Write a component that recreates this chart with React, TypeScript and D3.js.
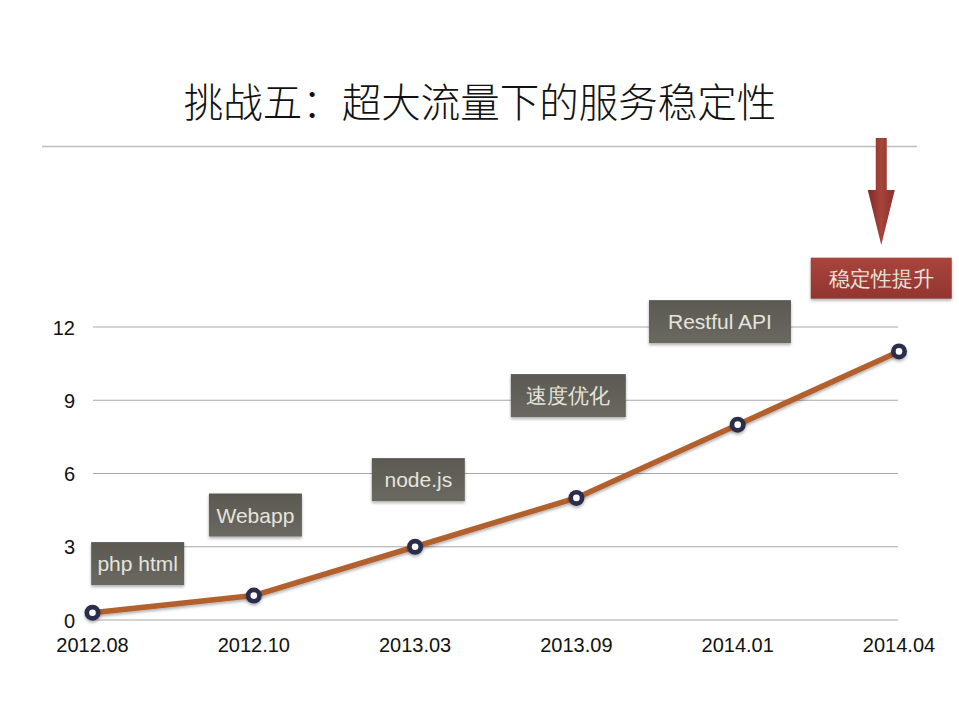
import React, { useEffect, useRef } from "react";
import * as d3 from "d3";

const title = "挑战五：超大流量下的服务稳定性";
const categories = ["2012.08", "2012.10", "2013.03", "2013.09", "2014.01", "2014.04"];
const values = [0.3, 1, 3, 5, 8, 11];
const yTicks = [0, 3, 6, 9, 12];
const noteTexts = ["php html", "Webapp", "node.js", "速度优化", "Restful API"];
const noteX = [0.28, 1.01, 2.02, 2.95, 3.89];
const noteY = [2.31, 4.3, 5.75, 9.19, 12.22];
const highlightText = "稳定性提升";
const highlightX = 4.89;
const highlightY = 14.0;

const noteWidths = [93, 93, 93, 115, 142];
const highlightWidth = 141;

export default function App() {
  const ref = useRef<SVGSVGElement | null>(null);

  useEffect(() => {
    const svg = d3.select(ref.current);
    svg.selectAll("*").remove();
    const W = 959, H = 720;

    const defs = svg.append("defs");
    const g1 = defs.append("linearGradient").attr("id", "boxGrad").attr("x1", 0).attr("y1", 0).attr("x2", 0).attr("y2", 1);
    g1.append("stop").attr("offset", "0%").attr("stop-color", "#5a5951");
    g1.append("stop").attr("offset", "100%").attr("stop-color", "#6a6962");
    const g2 = defs.append("linearGradient").attr("id", "redGrad").attr("x1", 0).attr("y1", 0).attr("x2", 0).attr("y2", 1);
    g2.append("stop").attr("offset", "0%").attr("stop-color", "#a9443c");
    g2.append("stop").attr("offset", "100%").attr("stop-color", "#923530");
    const g3 = defs.append("linearGradient").attr("id", "arrowGrad").attr("x1", 0).attr("y1", 0).attr("x2", 1).attr("y2", 0);
    g3.append("stop").attr("offset", "0%").attr("stop-color", "#7e2a26");
    g3.append("stop").attr("offset", "50%").attr("stop-color", "#a8443a");
    g3.append("stop").attr("offset", "100%").attr("stop-color", "#86302b");
    const sh = defs.append("filter").attr("id", "shadow").attr("x", "-20%").attr("y", "-20%").attr("width", "140%").attr("height", "160%");
    sh.append("feDropShadow").attr("dx", 0).attr("dy", 2).attr("stdDeviation", 1.5).attr("flood-color", "#000").attr("flood-opacity", 0.3);

    svg.append("rect").attr("width", W).attr("height", H).attr("fill", "#ffffff");

    // Title
    svg.append("text")
      .attr("x", 480).attr("y", 117)
      .attr("text-anchor", "middle")
      .attr("font-family", "'Noto Sans CJK SC', sans-serif")
      .attr("font-size", 39.5)
      .attr("font-weight", 300)
      .attr("fill", "#111")
      .text(title);
    svg.append("line").attr("x1", 42).attr("x2", 917).attr("y1", 146.5).attr("y2", 146.5)
      .attr("stroke", "#bdbdbd").attr("stroke-width", 1.5);

    const x = d3.scalePoint<string>().domain(categories).range([92.5, 899]);
    const xi = d3.scaleLinear().domain([0, categories.length - 1]).range([92.5, 899]);
    const y = d3.scaleLinear().domain([0, 12]).range([620, 327]);

    // Grid
    const grid = svg.append("g");
    yTicks.forEach(t => {
      grid.append("line").attr("x1", 93).attr("x2", 898).attr("y1", y(t)).attr("y2", y(t))
        .attr("stroke", "#a8a8a8").attr("stroke-width", 1.2);
      grid.append("text").attr("x", 75).attr("y", y(t) + 7.5).attr("text-anchor", "end")
        .attr("font-family", "'Liberation Sans', Arial, sans-serif").attr("font-size", 20)
        .attr("fill", "#111").text(String(t));
    });
    categories.forEach(c => {
      svg.append("text").attr("x", x(c)!).attr("y", 652).attr("text-anchor", "middle")
        .attr("font-family", "'Liberation Sans', Arial, sans-serif").attr("font-size", 20)
        .attr("fill", "#111").text(c);
    });

    // Notes
    const drawBox = (text: string, cx: number, cy: number, w: number, fill: string, h: number) => {
      const gg = svg.append("g");
      gg.append("rect").attr("x", cx - w / 2).attr("y", cy - h / 2).attr("width", w).attr("height", h)
        .attr("fill", fill).attr("filter", "url(#shadow)");
      gg.append("text").attr("x", cx).attr("y", cy + 7.5).attr("text-anchor", "middle")
        .attr("font-family", "'Liberation Sans', Arial, sans-serif").attr("font-size", 21)
        .attr("fill", "#e6e4dc").text(text);
    };
    noteTexts.forEach((t, i) => drawBox(t, xi(noteX[i]), y(noteY[i]), noteWidths[i], "url(#boxGrad)", 43));

    // Line
    const line = d3.line<number>().x((_, i) => x(categories[i])!).y(d => y(d));
    svg.append("path").datum(values).attr("d", line).attr("fill", "none")
      .attr("stroke", "#b2612d").attr("stroke-width", 5.5).attr("stroke-linejoin", "round")
      .attr("filter", "url(#shadow)");
    values.forEach((v, i) => {
      svg.append("circle").attr("cx", x(categories[i])!).attr("cy", y(v)).attr("r", 8)
        .attr("fill", "#2c2d4b").attr("filter", "url(#shadow)");
      svg.append("circle").attr("cx", x(categories[i])!).attr("cy", y(v)).attr("r", 3.3).attr("fill", "#fff");
    });

    // Highlight
    const hx = xi(highlightX);
    drawBox(highlightText, hx, y(highlightY), highlightWidth, "url(#redGrad)", 41);
    svg.append("path")
      .attr("d", `M${hx - 5.5},138 L${hx + 5.5},138 L${hx + 5.5},190 L${hx + 13.5},190 L${hx},245 L${hx - 13.5},190 L${hx - 5.5},190 Z`)
      .attr("fill", "url(#arrowGrad)");
  }, []);

  return (
    <svg ref={ref} width={959} height={720} style={{ display: "block", position: "absolute", left: 0, top: 0 }} />
  );
}
